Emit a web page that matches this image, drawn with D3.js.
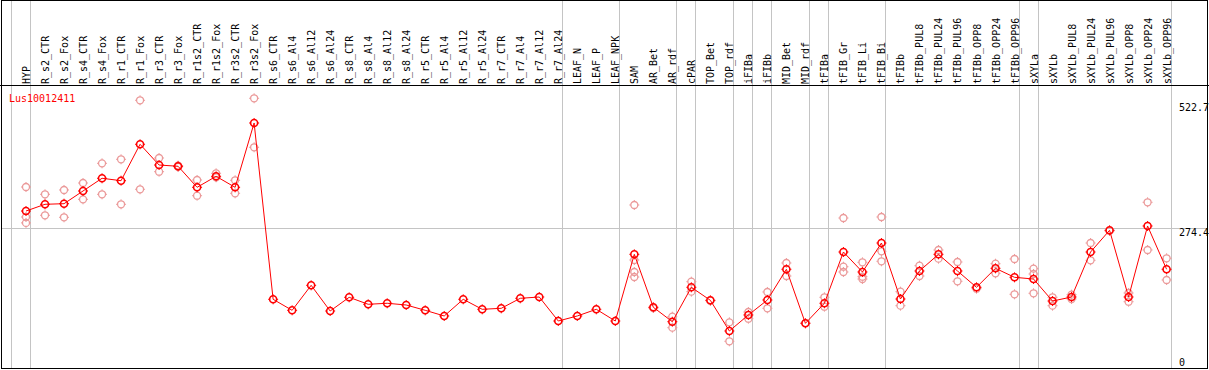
<!DOCTYPE html>
<html>
<head>
<meta charset="utf-8">
<script src="https://cdn.jsdelivr.net/npm/d3@7"></script>
<style>
  body { margin: 0; background: #fff; }
  svg text { font-family: "DejaVu Sans Mono", monospace; font-size: 10px; }
</style>
</head>
<body>
<div class="content"></div>
<script>
var width = 1209
var height = 370

var gene = 'Lus10012411'

var samples = ['HYP', 'R_s2_CTR', 'R_s2_Fox', 'R_s4_CTR', 'R_s4_Fox', 'R_r1_CTR', 'R_r1_Fox',
    'R_r3_CTR', 'R_r3_Fox', 'R_r1s2_CTR', 'R_r1s2_Fox', 'R_r3s2_CTR', 'R_r3s2_Fox',
    'R_s6_CTR', 'R_s6_Al4', 'R_s6_Al12', 'R_s6_Al24', 'R_s8_CTR', 'R_s8_Al4', 'R_s8_Al12',
    'R_s8_Al24', 'R_r5_CTR', 'R_r5_Al4', 'R_r5_Al12', 'R_r5_Al24', 'R_r7_CTR', 'R_r7_Al4',
    'R_r7_Al12', 'R_r7_Al24', 'LEAF_N', 'LEAF_P', 'LEAF_NPK', 'SAM', 'AR_Bet', 'AR_rdf',
    'cPAR', 'TOP_Bet', 'TOP_rdf', 'iFIBa', 'iFIBb', 'MID_Bet', 'MID_rdf', 'tFIBa',
    'tFIB_Gr', 'tFIB_Li', 'tFIB_Bi', 'tFIBb', 'tFIBb_PUL8', 'tFIBb_PUL24', 'tFIBb_PUL96',
    'tFIBb_OPP8', 'tFIBb_OPP24', 'tFIBb_OPP96', 'sXYLa', 'sXYLb', 'sXYLb_PUL8',
    'sXYLb_PUL24', 'sXYLb_PUL96', 'sXYLb_OPP8', 'sXYLb_OPP24', 'sXYLb_OPP96']

var means = [307.6, 321.0, 322.2, 347.5, 372.8, 368.0, 440.5, 399.2, 396.7, 354.8, 376.7,
    354.8, 482.9, 131.8, 109.9, 159.7, 108.5, 135.8, 121.9, 123.9, 120.5, 109.9, 98.6,
    131.8, 111.9, 113.9, 133.8, 136.4, 88.6, 98.6, 111.9, 88.6, 221.4, 115.9, 87.2, 155.7,
    129.8, 68.7, 100.6, 130.4, 191.6, 84.0, 123.9, 226.0, 186.2, 243.9, 132.4, 188.2,
    221.4, 188.2, 155.7, 193.5, 175.6, 172.2, 128.4, 136.4, 226.0, 269.2, 136.4, 277.8, 191.6]

// replicate values per sample
var replicates = [
    [355.4, 295.7, 284.0], [340.9, 299.1], [349.5, 295.1], [363.4, 330.9], [402.6, 340.9],
    [410.6, 321.0], [528.1, 350.9], [413.2, 385.9], [398.0, 395.5], [369.4, 338.1],
    [382.7, 374.8], [368.8, 342.9], [532.1, 434.5],
    [], [], [], [], [], [], [], [], [], [], [], [], [], [], [], [], [], [], [],
    [319.6, 210.1, 186.2, 176.2], [114.5], [97.2, 75.3], [166.9, 147.0], [129.0],
    [86.0, 48.2], [106.5, 93.2], [146.4, 113.9], [204.1, 178.2], [84.5], [135.8, 117.1],
    [293.7, 196.7, 186.2], [205.5, 176.8, 172.2], [295.7, 227.4, 207.5], [147.0, 119.1],
    [198.7, 178.2], [230.0, 212.7], [206.1, 167.7], [152.9], [202.7, 183.6], [212.1, 141.8],
    [192.8, 182.2, 143.8], [135.8, 119.1], [141.0, 132.4], [243.9, 209.5], [268.0],
    [144.4, 127.0], [325.0, 230.0], [213.5, 170.3]
]

// vertical separators drawn after these samples
var dividers = ['HYP', 'R_r7_Al24', 'LEAF_NPK', 'AR_rdf', 'cPAR', 'TOP_rdf', 'iFIBa', 'iFIBb',
    'MID_rdf', 'tFIBa', 'tFIB_Bi', 'tFIBb_OPP96', 'sXYLa', 'sXYLb_OPP96']

var yLabels = [0, 274.4, 522.7]
var gridValues = [274.4]

var headerBottom = 85.5

var x = d3.scaleBand()
    .domain(samples)
    .range([11, 11 + samples.length * 19.01])

var y = d3.scaleLinear()
    .domain([0, 522.7])
    .range([365.5, 103])

function cx(name) {
    return x(name) + 15
}

var svg = d3.select('.content').append('svg')
    .attr('width', width)
    .attr('height', height)

// grid
svg.append('g')
    .attr('class', 'vgrid')
    .selectAll('line')
    .data([null].concat(dividers))
    .enter().append('line')
    .attr('x1', function(d) {
        return Math.round(d === null ? x(samples[0]) : x(d) + x.bandwidth()) + 0.5
    })
    .attr('x2', function(d) {
        return Math.round(d === null ? x(samples[0]) : x(d) + x.bandwidth()) + 0.5
    })
    .attr('y1', 0)
    .attr('y2', 369)
    .attr('stroke', '#c4c4c4')

svg.append('g')
    .attr('class', 'hgrid')
    .selectAll('line')
    .data(gridValues)
    .enter().append('line')
    .attr('x1', 1)
    .attr('x2', 1207)
    .attr('y1', function(d) { return Math.round(y(d)) + 0.5 })
    .attr('y2', function(d) { return Math.round(y(d)) + 0.5 })
    .attr('stroke', '#c4c4c4')

// frame
svg.append('rect')
    .attr('x', 1.5)
    .attr('y', 0.5)
    .attr('width', 1206)
    .attr('height', 368)
    .attr('fill', 'none')
    .attr('stroke', '#000')

svg.append('line')
    .attr('x1', 0)
    .attr('x2', width)
    .attr('y1', headerBottom)
    .attr('y2', headerBottom)
    .attr('stroke', '#000')

// column labels
svg.append('g')
    .attr('class', 'labels')
    .selectAll('text')
    .data(samples)
    .enter().append('text')
    .attr('transform', function(d) {
        return 'translate(' + (Math.round(cx(d)) + 4) + ',84) rotate(-90)'
    })
    .attr('fill', '#000')
    .text(function(d) { return d })

// right-hand value labels
svg.append('g')
    .attr('class', 'ylabels')
    .selectAll('text')
    .data(yLabels)
    .enter().append('text')
    .attr('x', 1179)
    .attr('y', function(d) { return Math.min(Math.round(y(d)) + 8, 366) })
    .attr('fill', '#000')
    .text(function(d) { return d })

svg.append('text')
    .attr('x', 9)
    .attr('y', 102)
    .attr('fill', '#ff0000')
    .text(gene)

function marker(g, color, width) {
    g.append('circle')
        .attr('r', 3.5)
        .attr('fill', 'none')
        .attr('stroke', color)
        .attr('stroke-width', width)
    g.append('path')
        .attr('d', 'M0,-3.5V-5M0,3.5V5M-3.5,0H-5M3.5,0H5')
        .attr('stroke', color)
        .attr('stroke-width', 1)
}

// replicates
var reps = []
replicates.forEach(function(vals, i) {
    vals.forEach(function(v) {
        reps.push({ name: samples[i], value: v })
    })
})

svg.append('g')
    .attr('class', 'reps')
    .selectAll('g')
    .data(reps)
    .enter().append('g')
    .attr('transform', function(d) {
        return 'translate(' + cx(d.name) + ',' + y(d.value) + ')'
    })
    .each(function() { marker(d3.select(this), '#eb9a9a', 1.3) })

// mean line
var line = d3.line()
    .x(function(d, i) { return cx(samples[i]) })
    .y(function(d) { return y(d) })

svg.append('path')
    .datum(means)
    .attr('d', line)
    .attr('fill', 'none')
    .attr('stroke', '#ff0000')
    .attr('stroke-width', 1)

svg.append('g')
    .attr('class', 'means')
    .selectAll('g')
    .data(means)
    .enter().append('g')
    .attr('transform', function(d, i) {
        return 'translate(' + cx(samples[i]) + ',' + y(d) + ')'
    })
    .each(function() { marker(d3.select(this), '#ff0000', 1.6) })
</script>
</body>
</html>
